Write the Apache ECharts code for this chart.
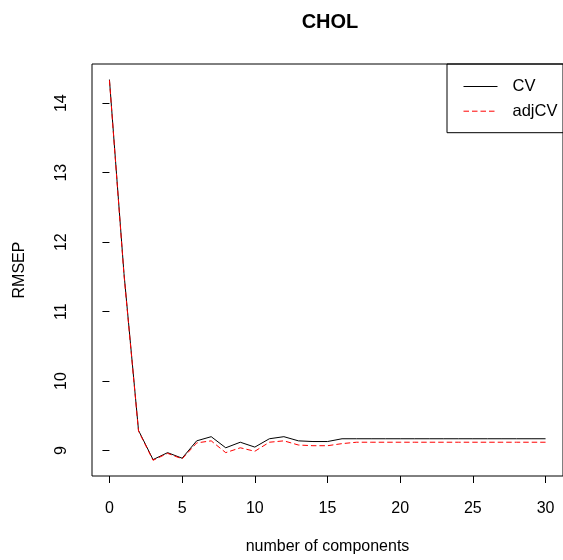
<!DOCTYPE html>
<html>
<head>
<meta charset="utf-8">
<script src="https://cdn.jsdelivr.net/npm/echarts@6/dist/echarts.min.js"></script>
<style>
  html, body { margin: 0; padding: 0; background: #fff; }
  #chart { width: 563px; height: 560px; }
</style>
</head>
<body>
<div id="chart"></div>
<script>
// number of components
const components = [0, 1, 2, 3, 4, 5, 6, 7, 8, 9, 10, 11, 12, 13, 14, 15,
  16, 17, 18, 19, 20, 21, 22, 23, 24, 25, 26, 27, 28, 29, 30];

// RMSEP
const cvValues = [14.34, 11.55, 9.29, 8.87, 8.97, 8.89, 9.14, 9.20, 9.04, 9.12, 9.05,
  9.17, 9.20, 9.14, 9.13, 9.13, 9.17, 9.17, 9.17, 9.17, 9.17, 9.17, 9.17, 9.17,
  9.17, 9.17, 9.17, 9.17, 9.17, 9.17, 9.17];
const adjCvValues = [14.33, 11.53, 9.28, 8.86, 8.96, 8.88, 9.11, 9.14, 8.97, 9.04, 8.99,
  9.12, 9.14, 9.08, 9.07, 9.07, 9.10, 9.12, 9.12, 9.12, 9.12, 9.12, 9.12, 9.12,
  9.12, 9.12, 9.12, 9.12, 9.12, 9.12, 9.12];

const xTicks = [0, 5, 10, 15, 20, 25, 30];
const yTicks = [9, 10, 11, 12, 13, 14];

const FONT = '"Liberation Sans", Arial, sans-serif';

const chart = echarts.init(document.getElementById('chart'));

const toPairs = (vals) => components.map((c, i) => [c, vals[i]]);

chart.setOption({
  animation: false,
  backgroundColor: '#fff',
  textStyle: { fontFamily: FONT, color: '#000' },
  title: {
    text: 'CHOL',
    left: 330, top: 12, padding: 0,
    textAlign: 'center',
    textStyle: { fontFamily: FONT, fontSize: 20, fontWeight: 'bold', color: '#000' }
  },
  // R style box round the plot region
  grid: {
    left: 92, top: 64, width: 475.6, height: 412,
    show: true, borderColor: '#000', borderWidth: 1, backgroundColor: 'transparent'
  },
  legend: {
    left: 447, top: 64,
    orient: 'vertical',
    itemWidth: 34, itemHeight: 14, itemGap: 7.7,
    padding: [14, 60, 13, 16],
    borderColor: '#000', borderWidth: 1, borderRadius: 0,
    itemStyle: { opacity: 0 },
    lineStyle: { width: 1 },
    textStyle: { fontFamily: FONT, fontSize: 16.5, color: '#000', padding: [0, 0, 0, 10] },
    data: ['CV', 'adjCV']
  },
  xAxis: {
    type: 'value',
    min: -1.2, max: 31.2,
    name: 'number of components',
    nameLocation: 'middle',
    nameGap: 63,
    nameTextStyle: { fontFamily: FONT, fontSize: 16, color: '#000' },
    axisLine: { show: false },
    splitLine: { show: false },
    axisTick: { show: true, inside: false, length: 7, customValues: xTicks, lineStyle: { color: '#000' } },
    axisLabel: { customValues: xTicks, margin: 25, fontSize: 16, color: '#000', fontFamily: FONT }
  },
  yAxis: {
    type: 'value',
    min: 8.634, max: 14.564,
    name: 'RMSEP',
    nameLocation: 'middle',
    nameGap: 64,
    nameRotate: 90,
    nameTextStyle: { fontFamily: FONT, fontSize: 16, color: '#000' },
    axisLine: { show: false },
    splitLine: { show: false },
    axisTick: { show: true, inside: false, length: 7, customValues: yTicks, lineStyle: { color: '#000' } },
    axisLabel: { customValues: yTicks, rotate: 90, margin: 22, fontSize: 16, color: '#000', fontFamily: FONT }
  },
  series: [
    {
      name: 'CV',
      type: 'line',
      data: toPairs(cvValues),
      symbol: 'none',
      showSymbol: false,
      itemStyle: { color: '#000' },
      lineStyle: { color: '#000', width: 1 }
    },
    {
      name: 'adjCV',
      type: 'line',
      data: toPairs(adjCvValues),
      symbol: 'none',
      showSymbol: false,
      itemStyle: { color: '#ff0000' },
      lineStyle: { color: '#ff0000', width: 1, type: [5.5, 3] }
    }
  ]
});
</script>
</body>
</html>
